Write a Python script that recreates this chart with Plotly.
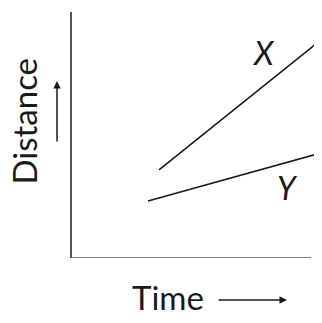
import plotly.graph_objects as go

# two straight distance-time lines (arbitrary units)
time_x = [3.48, 9.76]
dist_x = [3.58, 8.70]
time_y = [3.04, 9.96]
dist_y = [2.32, 4.27]

line_labels = ["X", "Y"]
label_pos = [(7.64, 8.37), (8.6, 2.85)]

ink = "#1a1a1a"
font = "Lato"

fig = go.Figure()
fig.add_trace(go.Scatter(x=time_x, y=dist_x, mode="lines",
                         line=dict(color=ink, width=1.6), hoverinfo="skip"))
fig.add_trace(go.Scatter(x=time_y, y=dist_y, mode="lines",
                         line=dict(color=ink, width=1.6), hoverinfo="skip"))

for name, (lx, ly) in zip(line_labels, label_pos):
    fig.add_annotation(x=lx, y=ly, text=f"<i>{name}</i>", showarrow=False,
                       font=dict(family=font, size=32, color=ink))

# axis labels
fig.add_annotation(xref="paper", yref="paper", x=0.382, y=-0.159, text="Time",
                   xanchor="center", yanchor="middle", showarrow=False,
                   font=dict(family=font, size=33, color=ink))
fig.add_annotation(xref="paper", yref="paper", x=-0.192, y=0.555, text="Distance",
                   xanchor="center", yanchor="middle", textangle=-90,
                   showarrow=False, font=dict(family=font, size=33, color=ink))

# arrows next to the axis labels
fig.add_annotation(xref="paper", yref="paper", x=-0.06, y=0.72, text="",
                   showarrow=True, ax=0, ay=62, arrowhead=2, arrowsize=1,
                   arrowwidth=1.5, arrowcolor=ink)
fig.add_annotation(xref="paper", yref="paper", x=0.86, y=-0.171, text="",
                   showarrow=True, ax=-70, ay=0, arrowhead=2, arrowsize=1,
                   arrowwidth=1.5, arrowcolor=ink)

# x axis line stops short of the right edge
fig.add_shape(type="line", x0=0, x1=9.56, y0=0, y1=0,
              line=dict(color="#555555", width=1.5))

fig.update_xaxes(range=[0, 10], showgrid=False, zeroline=False,
                 showticklabels=False, ticks="", showline=False)
fig.update_yaxes(range=[0, 10], showgrid=False, zeroline=False,
                 showticklabels=False, ticks="", showline=True,
                 linecolor="#555555", linewidth=1.5)

# page body adds an 8px margin, so the figure is 8px smaller
fig.update_layout(width=314, height=315, showlegend=False,
                  margin=dict(l=64, r=0, t=4, b=65),
                  plot_bgcolor="white", paper_bgcolor="white")

fig.write_html("out.html", config={"displayModeBar": False})
